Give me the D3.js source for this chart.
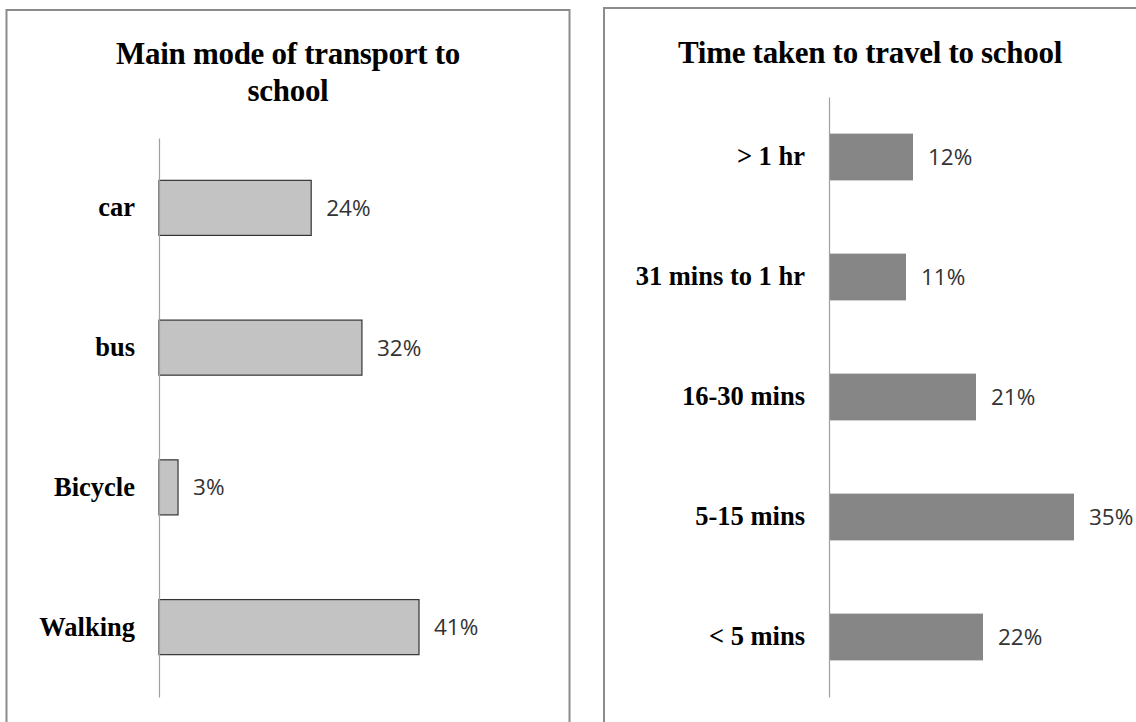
<!DOCTYPE html>
<html lang="en">
<head>
	<meta charset="UTF-8"/>
	<title>Travel to school</title>
	<script src="https://d3js.org/d3.v7.min.js"></script>
	<style>
		body { margin: 0; background: #fff; }
		svg { display: block; }
	</style>
</head>
<body>
	<script>
		var w = 1136;
		var h = 722;

		// data
		var modeCats = ["car", "bus", "Bicycle", "Walking"];
		var modeVals = [24, 32, 3, 41];

		var timeCats = ["> 1 hr", "31 mins to 1 hr", "16-30 mins", "5-15 mins", "< 5 mins"];
		var timeVals = [12, 11, 21, 35, 22];

		var svg = d3.select("body")
					.append("svg")
					.attr("width", w)
					.attr("height", h);

		//panel frames (bottom and right edge run off the picture)
		svg.append("rect")
			.attr("x", 6.5).attr("y", 10)
			.attr("width", 563).attr("height", 740)
			.attr("fill", "none")
			.attr("stroke", "#8c8c8c")
			.attr("stroke-width", 2);

		svg.append("rect")
			.attr("x", 604).attr("y", 8)
			.attr("width", 545).attr("height", 740)
			.attr("fill", "none")
			.attr("stroke", "#8c8c8c")
			.attr("stroke-width", 2);

		function drawChart(opts) {
			var xScale = d3.scaleLinear()
							.domain([0, opts.maxVal])
							.range([opts.x0, opts.x1]);

			var yScale = d3.scaleBand()
							.domain(opts.cats)
							.range([opts.y0, opts.y1])
							.paddingInner(opts.pad)
							.paddingOuter(opts.pad / 2);

			var g = svg.append("g");

			//title
			var title = g.append("text")
						.attr("x", opts.titleX)
						.attr("y", opts.titleY)
						.attr("text-anchor", "middle")
						.attr("font-family", "'Liberation Serif', 'Times New Roman', serif")
						.attr("font-weight", "bold")
						.attr("font-size", 31)
						.attr("letter-spacing", -0.3)
						.attr("fill", "#000");
			title.selectAll("tspan")
				.data(opts.title)
				.enter()
				.append("tspan")
				.attr("x", opts.titleX)
				.attr("dy", function(d, i) { return i == 0 ? 0 : 37; })
				.text(function(d) { return d; });

			//bars
			g.selectAll("rect.bar")
				.data(opts.vals)
				.enter()
				.append("rect")
				.attr("class", "bar")
				.attr("x", xScale(0))
				.attr("y", function(d, i) { return yScale(opts.cats[i]); })
				.attr("width", function(d) { return xScale(d) - xScale(0); })
				.attr("height", yScale.bandwidth())
				.attr("fill", opts.fill)
				.attr("stroke", opts.stroke)
				.attr("stroke-width", opts.stroke == "none" ? 0 : 1.2);

			//value labels
			g.selectAll("text.val")
				.data(opts.vals)
				.enter()
				.append("text")
				.attr("class", "val")
				.attr("x", function(d) { return xScale(d) + 15; })
				.attr("y", function(d, i) { return yScale(opts.cats[i]) + yScale.bandwidth() / 2; })
				.attr("dy", "0.36em")
				.attr("font-family", "'Open Sans', sans-serif")
				.attr("font-size", 22.5)
				.attr("fill", "#333")
				.text(function(d) { return d + "%"; });

			//category axis
			var yAxis = d3.axisLeft(yScale)
							.tickSize(0)
							.tickPadding(24);

			var ax = g.append("g")
						.attr("transform", "translate(" + xScale(0) + ",0)")
						.call(yAxis);
			ax.select(".domain")
				.attr("stroke", "#a0a0a0")
				.attr("stroke-width", 1.2);
			ax.selectAll("text")
				.attr("font-family", "'Liberation Serif', 'Times New Roman', serif")
				.attr("font-weight", "bold")
				.attr("font-size", 26.5)
				.attr("fill", "#000");
		}

		drawChart({
			cats: modeCats, vals: modeVals, maxVal: 41,
			x0: 159, x1: 419, y0: 138, y1: 697, pad: 0.606,
			fill: "#c3c3c3", stroke: "#333",
			title: ["Main mode of transport to", "school"],
			titleX: 288, titleY: 64
		});

		drawChart({
			cats: timeCats, vals: timeVals, maxVal: 35,
			x0: 829, x1: 1074, y0: 97, y1: 697, pad: 0.61,
			fill: "#868686", stroke: "none",
			title: ["Time taken to travel to school"],
			titleX: 870, titleY: 63
		});
	</script>
</body>
</html>
